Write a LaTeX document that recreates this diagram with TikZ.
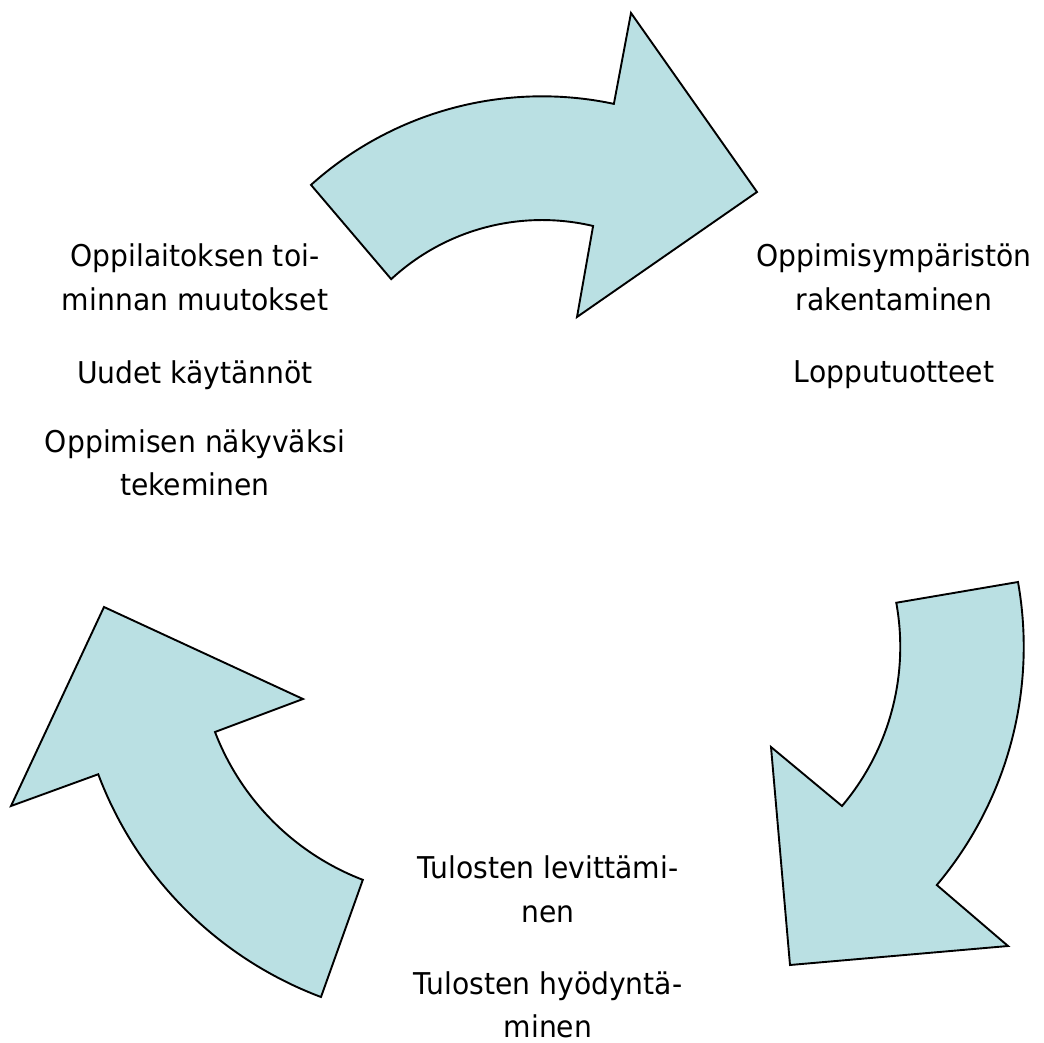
\documentclass[tikz,border=0pt]{standalone}
\usepackage{fontspec}
\setmainfont{DejaVu Sans}[FakeStretch=0.94]
\definecolor{arrowfill}{RGB}{186,224,227}
\begin{document}
\begin{tikzpicture}[x=0.5pt,y=-0.5pt,
  cyclearrow/.style={draw=black,fill=arrowfill,line width=0.95pt,line join=miter},
  lbl/.style={anchor=base,inner sep=0pt,font=\fontsize{15pt}{18pt}\selectfont}]
\useasboundingbox (0,0) rectangle (1044,1043);

% top arrow
\draw[cyclearrow] (311,184.9) arc[start angle=131.95,end angle=78,radius=172.8pt]
  -- (631,13) -- (757,192) -- (577,317) -- (593.1,226)
  arc[start angle=76.7,end angle=132.8,radius=111pt] -- cycle;

% right arrow
\draw[cyclearrow] (1018,582) arc[start angle=10.1,end angle=-40.1,radius=184.9pt]
  -- (1008,946) -- (790,965) -- (771,747) -- (842,806)
  arc[start angle=-40.2,end angle=10.3,radius=123.3pt] -- cycle;

% left arrow
\draw[cyclearrow] (321,997) arc[start angle=249.4,end angle=200.6,radius=190.65pt]
  -- (11,806) -- (104,607) -- (303,699) -- (215,732)
  arc[start angle=201,end angle=249,radius=128.5pt] -- cycle;

% left text
\node[lbl] (l1) at (195,267) {Oppilaitoksen toi-};
\node[lbl] (l2) at (195,311) {minnan muutokset};
\node[lbl] (l3) at (195,383) {Uudet käytännöt};
\node[lbl] (l4) at (195,452) {Oppimisen näkyväksi};
\node[lbl] (l5) at (195,495) {tekeminen};

% right text
\node[lbl] (r1) at (894,267) {Oppimisympäristön};
\node[lbl] (r2) at (894,311) {rakentaminen};
\node[lbl] (r3) at (894,382) {Lopputuotteet};

% bottom text
\node[lbl] (b1) at (548,878) {Tulosten levittämi-};
\node[lbl] (b2) at (548,922) {nen};
\node[lbl] (b3) at (548,994) {Tulosten hyödyntä-};
\node[lbl] (b4) at (548,1037) {minen};
\end{tikzpicture}
\end{document}
